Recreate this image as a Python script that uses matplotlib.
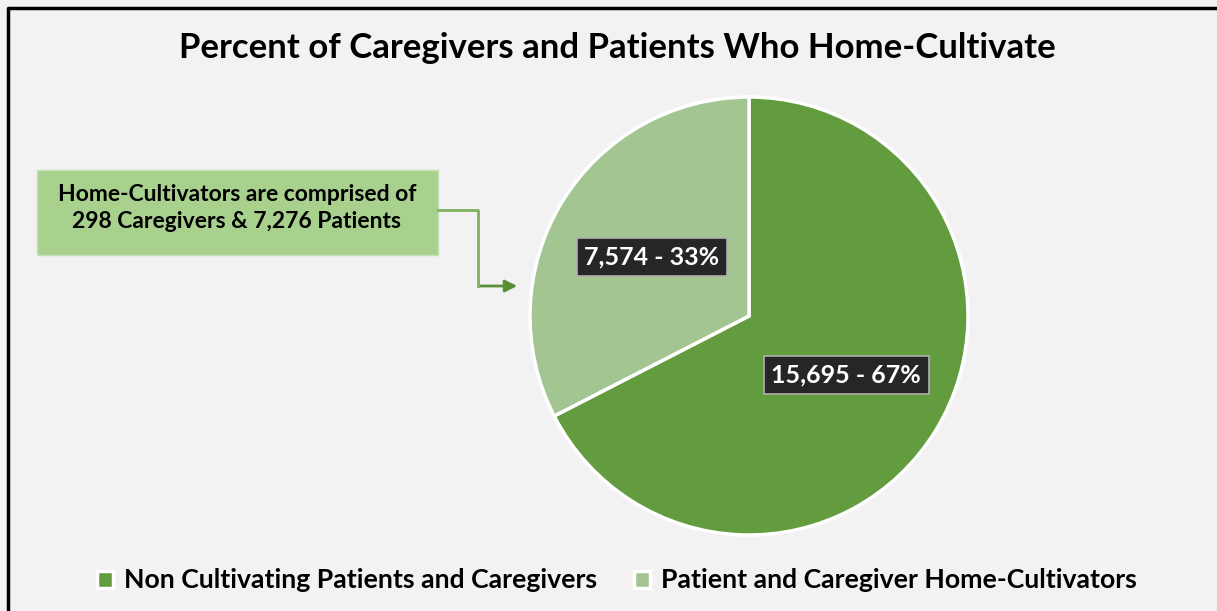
import matplotlib.pyplot as plt
from matplotlib.patches import FancyArrowPatch, Rectangle

categories = ['Non Cultivating Patients and Caregivers', 'Patient and Caregiver Home-Cultivators']
counts = [15695, 7574]
colors = ['#629c3e', '#a3c592']
note = 'Home-Cultivators are comprised of\n298 Caregivers & 7,276 Patients'

plt.rcParams['font.family'] = ['Lato', 'DejaVu Sans']

W, H = 1217, 611
fig = plt.figure(figsize=(W / 100, H / 100), dpi=100)
fig.patch.set_facecolor('#f2f2f2')
ax = fig.add_axes([0, 0, 1, 1])
ax.set_facecolor('#f2f2f2')

total = sum(counts)


def fmt(pct):
    v = int(round(pct * total / 100))
    return f'{v:,} - {pct:.0f}%'


wedges, texts, autotexts = ax.pie(
    counts, colors=colors, startangle=90, counterclock=False,
    center=(749, H - 316), radius=219, frame=True,
    autopct=fmt, pctdistance=0.52,
    wedgeprops=dict(edgecolor='white', linewidth=2.5))
for t in autotexts:
    t.set_color('white')
    t.set_fontsize(18)
    t.set_fontweight('bold')
    t.set_bbox(dict(boxstyle='square,pad=0.3', facecolor='#262626', edgecolor='#b0b0b0', linewidth=1.2))

ax.set_xlim(0, W)
ax.set_ylim(0, H)
ax.set_aspect('equal')
ax.axis('off')

# frame (left and top edges only visible)
ax.plot([8, 8, W + 5], [-5, H - 8, H - 8], color='black', linewidth=2.5, clip_on=False)

ax.text(617, H - 48, 'Percent of Caregivers and Patients Who Home-Cultivate',
        ha='center', va='center', fontsize=25, fontweight='bold', color='black')

# callout box
ax.add_patch(Rectangle((37, H - 255), 401, 85, facecolor='#a9d18e', edgecolor='#c5e0b4', linewidth=1))
ax.text(237, H - 208, note, ha='center', va='center', fontsize=16.5, fontweight='bold',
        color='black', linespacing=1.35)

ax.plot([438, 478, 478], [H - 210, H - 210, H - 286], color='#7fb05d', linewidth=2)
arr = FancyArrowPatch((477, H - 286), (520, H - 286), arrowstyle='-|>', mutation_scale=18,
                      color='#5a8f38', linewidth=2)
ax.add_patch(arr)

leg = fig.legend(wedges, categories, loc='center', bbox_to_anchor=(0.507, 0.05), ncol=2,
                 frameon=False, fontsize=19.2, handlelength=0.6, handleheight=0.6,
                 handletextpad=0.4, columnspacing=1.4)
for t in leg.get_texts():
    t.set_fontweight('bold')

fig.savefig('out.png', dpi=100, facecolor=fig.get_facecolor())
